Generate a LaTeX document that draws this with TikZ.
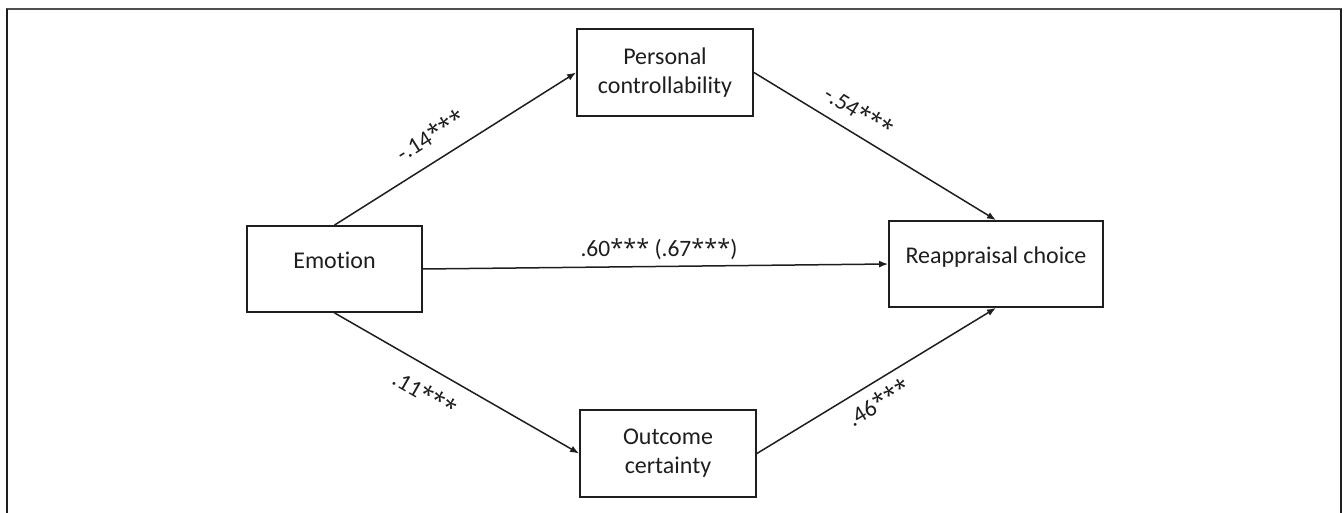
\documentclass[tikz,border=0pt]{standalone}
\usepackage{fontspec}
\setmainfont{Carlito}[Ligatures=NoCommon]
\newfontfamily\starfont{Open Sans}
\newcommand\stars{{\starfont ***}}
\usetikzlibrary{arrows.meta}
\definecolor{ink}{HTML}{1E1E1E}
\definecolor{framegray}{HTML}{505050}
\begin{document}
\begin{tikzpicture}[x=1pt,y=-1pt,
  box/.style={draw=ink, line width=1.8pt, minimum width=#1, minimum height=86pt,
    inner sep=0pt, align=center, font=\fontsize{24}{29}\selectfont, text=ink},
  box/.default=176pt,
  boxtxt/.style={inner sep=0pt, font=\fontsize{24}{29}\selectfont, text=ink},
  conn/.style={draw=ink, line width=1.5pt, -{Latex[length=9pt,width=7pt]}},
  lbl/.style={inner sep=0pt, font=\fontsize{23.5}{28}\selectfont, text=ink}]
\useasboundingbox (0,0) rectangle (1344,513);
% frame
\draw[framegray, line width=2pt] (6,9) -- (1342,9);
\draw[ink, line width=1.6pt] (7,9) -- (7,516);
\draw[ink, line width=1.6pt] (1341,9) -- (1341,516);
% boxes
\node (emo) [box=175pt, label={[boxtxt, yshift=9pt]center:Emotion}] at (334.5,269) {};
\node (pc) [box=176pt, minimum height=87pt] at (665,72.5) {Personal\\controllability};
\node (oc) [box=176pt, minimum height=87pt] at (668,453.5) {Outcome\\certainty};
\node (rc) [box=214pt, label={[boxtxt, yshift=6.5pt]center:Reappraisal choice}] at (996,264) {};
% connectors
\draw[conn] (emo.north) -- (pc.west);
\draw[conn] (pc.east) -- (rc.north);
\draw[conn] (emo.east) -- (rc.west);
\draw[conn] (emo.south) -- (oc.west);
\draw[conn] (oc.east) -- (rc.south);
% labels
\node (l1) [lbl, rotate=32.3] at (430,135) {-.14\stars};
\node (l2) [lbl, rotate=-31.7] at (859,111) {-.54\stars};
\node (l3) [lbl, anchor=base] at (659,257) {.60\stars{} (.67\stars)};
\node (l4) [lbl, rotate=-30] at (425,393) {.11\stars};
\node (l5) [lbl, rotate=31.5] at (878,402) {.46\stars};
\end{tikzpicture}
\end{document}
